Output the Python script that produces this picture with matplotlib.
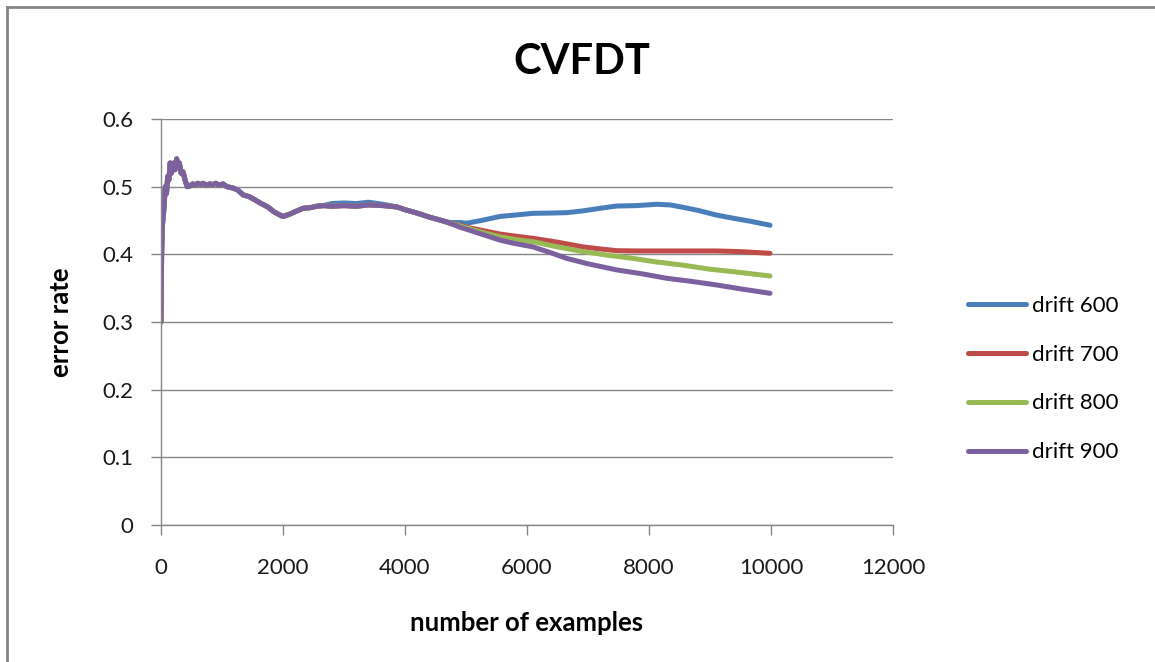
import matplotlib
matplotlib.use("Agg")
import matplotlib.pyplot as plt
import numpy as np

plt.rcParams['font.family'] = ['Lato', 'DejaVu Sans']

# ---- data ----
# shared early part (all series nearly identical)
common_x = [0, 10, 20, 35, 50, 70, 90, 110, 130, 150, 170, 190, 210, 230, 257, 280, 300,
            330, 360, 400, 430, 475, 520, 560, 600, 650, 690, 740, 800, 850, 900, 950,
            1016, 1080, 1180, 1260, 1344, 1450, 1550, 1623, 1750, 1850, 1950, 2000,
            2100, 2200, 2328, 2450, 2550, 2656]
common_y = [0.30, 0.40, 0.44, 0.455, 0.47, 0.50, 0.49, 0.515, 0.51, 0.535, 0.52, 0.53,
            0.535, 0.525, 0.541, 0.53, 0.535, 0.52, 0.522, 0.508, 0.50, 0.501, 0.504,
            0.502, 0.505, 0.503, 0.505, 0.502, 0.504, 0.503, 0.505, 0.502, 0.504, 0.50,
            0.498, 0.495, 0.488, 0.485, 0.48, 0.476, 0.47, 0.463, 0.458, 0.456,
            0.459, 0.463, 0.468, 0.469, 0.471, 0.472]

mid_x = [2800, 3000, 3200, 3400, 3640, 3869, 4000, 4197, 4400, 4600, 4738]
mid_y = [0.471, 0.472, 0.471, 0.473, 0.472, 0.470, 0.466, 0.461, 0.455, 0.450, 0.446]
blue_mid_y = [0.475, 0.476, 0.475, 0.477, 0.474, 0.470, 0.466, 0.461, 0.455, 0.450, 0.447]

d600_x = [4902, 5011, 5250, 5557, 5800, 6098, 6400, 6650, 6900, 7197, 7470, 7800,
          8126, 8350, 8557, 8800, 9109, 9400, 9656, 9984]
d600_y = [0.447, 0.446, 0.450, 0.456, 0.458, 0.4606, 0.461, 0.4616, 0.464, 0.468,
          0.4714, 0.472, 0.474, 0.473, 0.4695, 0.465, 0.458, 0.453, 0.449, 0.443]

d700_x = [4902, 5011, 5284, 5557, 5800, 6098, 6500, 6918, 7200, 7470, 7800, 8290,
          8700, 9109, 9500, 9984]
d700_y = [0.443, 0.440, 0.435, 0.430, 0.427, 0.4237, 0.418, 0.411, 0.408, 0.4054,
          0.405, 0.405, 0.405, 0.405, 0.404, 0.4015]

d800_x = [4902, 5011, 5284, 5557, 5800, 6098, 6500, 6918, 7300, 7738, 8100, 8557,
          9000, 9377, 9700, 9984]
d800_y = [0.442, 0.439, 0.432, 0.426, 0.422, 0.4187, 0.411, 0.404, 0.399, 0.394,
          0.389, 0.384, 0.378, 0.3744, 0.371, 0.368]

d900_x = [4902, 5011, 5284, 5557, 5800, 6098, 6400, 6650, 7000, 7470, 7900, 8290,
          8700, 9109, 9500, 9984]
d900_y = [0.440, 0.437, 0.429, 0.421, 0.416, 0.411, 0.402, 0.394, 0.386, 0.377,
          0.371, 0.3646, 0.360, 0.3547, 0.349, 0.3424]

labels = ["drift 600", "drift 700", "drift 800", "drift 900"]
colors = ["#4A7EBB", "#BE4B48", "#98B954", "#7D60A0"]
ytick_labels = ["0", "0.1", "0.2", "0.3", "0.4", "0.5", "0.6"]

series = [
    (common_x + mid_x + d600_x, common_y + blue_mid_y + d600_y),
    (common_x + mid_x + d700_x, common_y + mid_y + d700_y),
    (common_x + mid_x + d800_x, common_y + mid_y + d800_y),
    (common_x + mid_x + d900_x, common_y + mid_y + d900_y),
]

fig = plt.figure(figsize=(11.55, 6.62), dpi=100)
ax = fig.add_axes([161/1155, 1-525/662, (893-161)/1155, (525-119)/662])

for (xs, ys), lab, c in zip(series, labels, colors):
    ax.plot(xs, ys, color=c, lw=3.6, label=lab, solid_capstyle='round',
            solid_joinstyle='round')

ax.set_xlim(0, 12000)
ax.set_ylim(0, 0.6)
ax.set_xticks(np.arange(0, 12001, 2000))
ax.set_yticks(np.arange(0, 0.61, 0.1))
ax.set_yticklabels(ytick_labels)
ax.yaxis.grid(True, color="#868686", lw=1)
ax.set_axisbelow(True)
for s in ["top", "right"]:
    ax.spines[s].set_visible(False)
for s in ["left", "bottom"]:
    ax.spines[s].set_color("#868686")
    ax.spines[s].set_linewidth(1)
ax.tick_params(axis='both', colors="#868686", labelcolor="#1a1a1a", labelsize=16,
               length=7, width=1, direction='out')
ax.tick_params(axis='x', pad=17)
ax.tick_params(axis='y', pad=13)

ax.set_xlabel("number of examples", fontsize=18.5, fontweight='bold')
ax.xaxis.set_label_coords(0.5, (525-611)/406)
ax.set_ylabel("error rate", fontsize=18.5, fontweight='bold')
ax.yaxis.set_label_coords((73-161)/732, 0.5)

fig.text(582/1155, 0.906, "CVFDT", ha='center', va='center', fontsize=30, fontweight='bold')

leg = ax.legend(loc='center left', bbox_to_anchor=(968/1155, 1-379/662),
                bbox_transform=fig.transFigure, frameon=False, fontsize=16,
                handlelength=2.6, labelspacing=1.3, handletextpad=0.3, borderaxespad=0,
                borderpad=0)

# figure frame (top and left visible)
fig.add_artist(plt.Line2D([7/1155, 7/1155], [0, 1-7/662], transform=fig.transFigure,
                          color="#868686", lw=2))
fig.add_artist(plt.Line2D([7/1155, 1], [1-7/662, 1-7/662], transform=fig.transFigure,
                          color="#868686", lw=2))

fig.savefig("out.png", dpi=100)
